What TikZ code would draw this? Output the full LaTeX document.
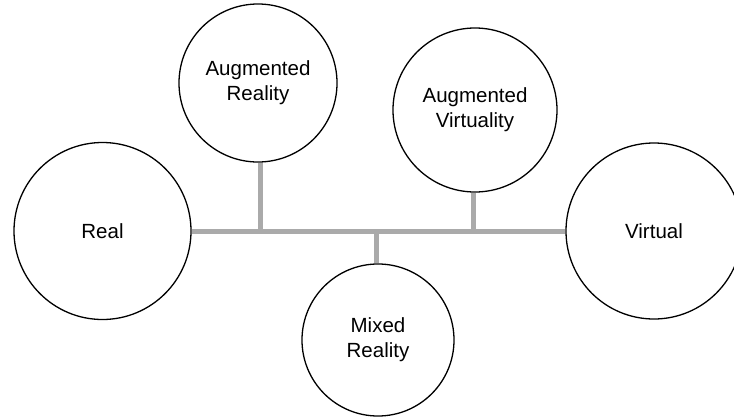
\documentclass[tikz,border=0pt]{standalone}
\usepackage{fontspec}
\setmainfont{Liberation Sans}
\begin{document}
\begin{tikzpicture}[x=1pt,y=-1pt,
  stage/.style={circle,draw=black,line width=1.3pt,fill=white,inner sep=0pt,
    align=center,font=\fontsize{20.5}{25}\selectfont},
  spine/.style={draw={rgb,255:red,170;green,170;blue,170},line width=5pt}]
  \useasboundingbox (0,0) rectangle (734,418);
  \clip (0,0) rectangle (734,418);
  % continuum end points and intermediate stages
  \node[stage,minimum size=177pt] (real) at (102.5,231) {Real};
  \node[stage,minimum size=176pt] (virt) at (654,231) {Virtual};
  \node[stage,minimum size=158pt] (ar) at (258,83) {Augmented\\Reality};
  \node[stage,minimum size=164pt] (av) at (475,110) {Augmented\\Virtuality};
  \node[stage,minimum size=152pt] (mr) at (378,340) {Mixed\\Reality};
  % junction points on the spine
  \coordinate (jar) at (260,231);
  \coordinate (jav) at (473,231);
  \coordinate (jmr) at (376,231);
  % spine and branches
  \draw[spine] (real.east) -- (virt.west);
  \draw[spine] (jar) -- (jar |- ar.south);
  \draw[spine] (jav) -- (jav |- av.south);
  \draw[spine] (jmr) -- (jmr |- mr.north);
\end{tikzpicture}
\end{document}
